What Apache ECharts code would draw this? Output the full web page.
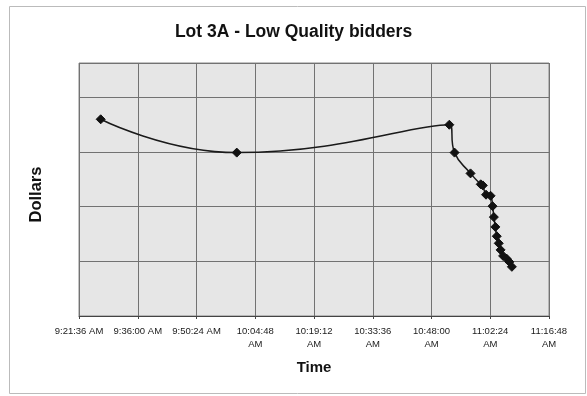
<!DOCTYPE html>
<html>
<head>
<meta charset="utf-8">
<script src="https://cdn.jsdelivr.net/npm/echarts@6/dist/echarts.min.js"></script>
<style>
html,body{margin:0;padding:0;background:#fff;}
#chart{width:587px;height:396px;}
</style>
</head>
<body>
<div id="chart"></div>
<script>
// Bid times (clock time) and bid levels (Dollars, relative units - axis has no labels)
var bidTimes = ['9:26:55','10:00:16','10:52:22','10:53:39','10:57:34','11:00:04','11:00:35','11:01:22','11:02:29','11:02:58','11:03:17','11:03:39','11:04:00','11:04:29','11:04:56','11:05:33','11:06:24','11:07:05','11:07:42'];
var bidDollars = [3.60, 2.99, 3.50, 2.99, 2.61, 2.41, 2.39, 2.22, 2.20, 2.01, 1.81, 1.63, 1.46, 1.33, 1.21, 1.10, 1.05, 0.99, 0.90];
var xTickLabels = ['9:21:36 AM','9:36:00 AM','9:50:24 AM','10:04:48\nAM','10:19:12\nAM','10:33:36\nAM','10:48:00\nAM','11:02:24\nAM','11:16:48\nAM'];
var xMinClock = '9:21:36', xMaxClock = '11:16:48', xStepClock = '0:14:24';

function toSec(s){var p=s.split(':').map(Number);return p[0]*3600+p[1]*60+p[2];}
var xMin = toSec(xMinClock), xMax = toSec(xMaxClock), xStep = toSec(xStepClock);
var seriesData = bidTimes.map(function(t,i){return [toSec(t), bidDollars[i]];});

var chart = echarts.init(document.getElementById('chart'));
var font = 'Liberation Sans, Arial, Helvetica, sans-serif';
chart.setOption({
  backgroundColor:'#ffffff',
  animation:false,
  title:{text:'Lot 3A - Low Quality bidders',left:'center',top:18,
    textStyle:{fontFamily:font,fontSize:17.5,fontWeight:'bold',color:'#111'}},
  grid:{left:79,right:38,top:63,bottom:80,show:true,backgroundColor:'#e6e6e6',borderColor:'#888',borderWidth:1},
  xAxis:{type:'value',min:xMin,max:xMax,interval:xStep,
    name:'Time',nameLocation:'middle',nameGap:44,
    nameTextStyle:{fontFamily:font,fontSize:15,fontWeight:'bold',color:'#111'},
    axisLine:{show:true,lineStyle:{color:'#444',width:1}},
    axisTick:{show:true,length:3,lineStyle:{color:'#444'}},
    splitLine:{show:true,lineStyle:{color:'#727272',width:1}},
    axisLabel:{fontFamily:font,fontSize:9.5,color:'#1a1a1a',margin:9,lineHeight:13,
      formatter:function(v){var i=Math.round((v-xMin)/xStep);return xTickLabels[i]||'';}}
  },
  yAxis:{type:'value',min:0,max:4.63,interval:1,
    name:'Dollars',nameLocation:'middle',nameGap:34,nameRotate:90,
    nameTextStyle:{fontFamily:font,fontSize:16.5,fontWeight:'bold',color:'#111',padding:[0,10,0,0]},
    axisLine:{show:false},axisTick:{show:false},axisLabel:{show:false},
    splitLine:{show:true,lineStyle:{color:'#727272',width:1}}
  },
  graphic:[{type:'rect',shape:{x:9.5,y:6.5,width:576,height:387},
    style:{fill:'none',stroke:'#bbb',lineWidth:1},silent:true}],
  series:[{type:'line',data:seriesData,smooth:0.5,
    symbol:'diamond',symbolSize:9,
    lineStyle:{color:'#1a1a1a',width:1.5},
    itemStyle:{color:'#111',borderColor:'#111'}}]
});
</script>
</body>
</html>
